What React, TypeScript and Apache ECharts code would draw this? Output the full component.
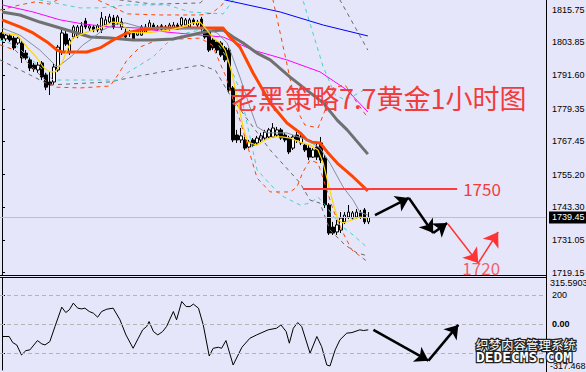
import { useEffect, useRef } from "react";
import * as echarts from "echarts";

// Gold, 1-hour bars: [open, close, low, high]
const bars: number[][] = [
  [1807.2, 1805.3, 1804.6, 1807.5], [1805.0, 1806.4, 1804.2, 1807.2], [1806.1, 1804.6, 1803.9, 1806.8],
  [1805.3, 1801.7, 1800.9, 1806.1], [1803.5, 1805.3, 1802.8, 1805.7], [1803.5, 1798.0, 1796.2, 1804.2],
  [1799.8, 1798.0, 1797.3, 1800.9], [1797.3, 1794.3, 1793.2, 1798.4], [1795.4, 1794.0, 1792.9, 1796.2],
  [1793.6, 1795.4, 1792.5, 1796.5], [1796.2, 1791.0, 1789.9, 1796.9], [1791.8, 1787.3, 1786.2, 1792.5],
  [1789.2, 1788.1, 1784.4, 1792.9], [1789.2, 1794.7, 1788.1, 1795.8], [1793.6, 1802.0, 1792.9, 1802.8],
  [1800.2, 1807.2, 1799.1, 1808.3], [1806.8, 1803.1, 1802.4, 1807.9], [1800.2, 1804.6, 1799.1, 1805.3],
  [1805.7, 1809.4, 1805.0, 1810.1], [1806.1, 1809.4, 1805.3, 1810.1], [1806.4, 1809.8, 1806.1, 1811.2],
  [1811.6, 1809.4, 1808.6, 1812.7], [1809.0, 1809.8, 1807.9, 1810.5], [1809.4, 1808.3, 1807.5, 1810.1],
  [1808.3, 1809.8, 1807.5, 1810.5], [1808.3, 1812.7, 1807.2, 1814.9], [1810.1, 1812.0, 1809.4, 1813.4],
  [1811.2, 1813.1, 1810.5, 1814.2], [1812.7, 1809.4, 1808.6, 1813.8], [1810.9, 1813.1, 1810.1, 1813.8],
  [1809.4, 1811.2, 1808.3, 1812.7], [1807.5, 1805.7, 1805.3, 1809.0], [1807.2, 1806.8, 1805.7, 1808.3],
  [1807.2, 1805.0, 1804.6, 1807.9], [1806.4, 1807.9, 1806.1, 1808.6], [1806.4, 1809.4, 1806.1, 1810.1],
  [1807.5, 1809.4, 1807.2, 1810.5], [1809.0, 1810.9, 1808.3, 1812.0], [1810.1, 1809.0, 1808.6, 1810.9],
  [1808.6, 1809.4, 1807.9, 1810.1], [1809.8, 1808.6, 1807.9, 1810.5], [1808.6, 1809.4, 1808.3, 1810.1],
  [1808.6, 1810.1, 1807.9, 1810.9], [1809.0, 1810.1, 1808.6, 1811.2], [1810.1, 1808.6, 1808.3, 1810.9],
  [1810.1, 1812.7, 1809.4, 1813.1], [1810.1, 1812.0, 1809.8, 1812.7], [1809.4, 1812.0, 1809.0, 1812.7],
  [1812.0, 1810.9, 1810.1, 1812.7], [1810.1, 1811.2, 1809.4, 1812.0], [1812.3, 1809.4, 1807.5, 1813.1],
  [1808.3, 1805.7, 1805.0, 1809.0], [1807.5, 1800.9, 1800.2, 1808.3], [1804.6, 1801.7, 1800.9, 1805.3],
  [1803.9, 1800.9, 1799.8, 1804.6], [1803.5, 1799.1, 1798.4, 1804.2], [1801.7, 1797.3, 1796.5, 1802.4],
  [1800.9, 1786.2, 1785.1, 1801.7], [1787.0, 1767.9, 1767.1, 1787.7], [1769.7, 1767.9, 1766.8, 1771.6],
  [1767.9, 1769.4, 1766.8, 1772.3], [1767.9, 1764.9, 1764.2, 1769.0], [1765.3, 1767.1, 1764.9, 1767.9],
  [1767.9, 1766.0, 1765.3, 1768.6], [1766.8, 1768.6, 1766.0, 1769.4], [1767.9, 1769.4, 1767.1, 1770.5],
  [1768.6, 1770.8, 1767.9, 1771.6], [1769.0, 1771.6, 1768.6, 1772.3], [1769.0, 1772.3, 1768.6, 1774.1],
  [1769.7, 1771.6, 1769.0, 1772.7], [1771.6, 1768.6, 1767.9, 1772.3], [1769.7, 1767.9, 1767.1, 1770.5],
  [1768.6, 1763.5, 1762.7, 1769.4], [1764.9, 1769.0, 1764.2, 1769.7], [1769.7, 1767.9, 1766.8, 1770.8],
  [1766.8, 1769.0, 1766.0, 1769.7], [1766.0, 1764.2, 1763.5, 1766.8], [1764.9, 1761.6, 1760.5, 1766.0],
  [1761.6, 1764.2, 1761.3, 1764.9], [1765.3, 1761.6, 1760.5, 1766.8], [1766.8, 1760.5, 1759.4, 1769.0],
  [1761.3, 1744.0, 1742.9, 1762.4], [1744.0, 1733.7, 1733.0, 1744.7], [1735.9, 1733.7, 1733.0, 1737.8],
  [1734.1, 1736.7, 1733.0, 1738.5], [1734.8, 1739.2, 1733.7, 1741.4], [1737.8, 1740.3, 1737.0, 1741.4],
  [1739.6, 1741.4, 1738.9, 1744.0], [1739.2, 1741.1, 1738.5, 1741.8], [1739.6, 1741.4, 1738.9, 1742.5],
  [1741.1, 1739.6, 1738.9, 1742.2], [1742.2, 1737.8, 1737.0, 1742.9], [1737.8, 1739.45, 1737.0, 1741.4],
];

// bar slots on the time axis (the right part stays empty for the projection)
const slotCount = 137;
const slots = Array.from({ length: slotCount }, (_, i) => String(i));

// moving averages, vertices as [bar position, price]
const maYellow = [
  [0, 1807.2], [3.8, 1806.4], [6.3, 1802.0], [8.8, 1798.0], [10.3, 1794.7], [12.0, 1792.9], [13.3, 1792.9],
  [15.1, 1796.2], [16.3, 1800.9], [17.8, 1805.3], [21.3, 1807.5], [24.6, 1809.0], [27.9, 1811.2], [29.6, 1810.9],
  [32.1, 1807.5], [34.6, 1807.2], [37.9, 1807.5], [42.2, 1808.3], [45.4, 1809.4], [47.7, 1810.9], [49.7, 1811.2],
  [51.4, 1808.3], [53.0, 1805.3], [54.7, 1803.5], [56.0, 1800.9], [57.7, 1792.5], [59.2, 1781.5], [60.5, 1772.7],
  [61.7, 1767.1], [64.0, 1766.0], [66.0, 1767.9], [68.0, 1769.0], [70.3, 1769.0], [72.3, 1768.6], [74.8, 1767.1],
  [77.3, 1766.0], [79.3, 1764.2], [80.6, 1759.4], [81.8, 1752.1], [83.1, 1744.7], [84.3, 1738.5], [85.6, 1737.4],
  [87.8, 1738.5], [89.8, 1739.6], [91.6, 1739.2],
];
const maSlate = [
  [0, 1809.0], [4.5, 1806.4], [9.5, 1800.9], [12.0, 1797.3], [13.8, 1794.7], [15.3, 1796.2], [17.8, 1799.1],
  [20.3, 1802.8], [22.8, 1805.3], [25.3, 1808.3], [27.9, 1810.1], [30.9, 1810.9], [34.6, 1809.4], [42.2, 1808.6],
  [50.4, 1809.0], [54.0, 1807.2], [56.5, 1803.5], [57.2, 1800.9], [59.7, 1791.0], [62.2, 1780.0], [64.0, 1772.7],
  [66.5, 1770.5], [71.5, 1770.5], [76.5, 1767.9], [79.8, 1764.9], [82.3, 1759.4], [85.6, 1750.6], [88.1, 1745.8],
  [89.8, 1741.4], [91.8, 1740.3],
];
const maOrange = [
  [0, 1812.0], [4.5, 1809.4], [7.8, 1807.2], [11.3, 1803.9], [13.8, 1800.9], [15.1, 1800.2], [17.8, 1800.2],
  [21.3, 1800.2], [24.6, 1801.7], [27.9, 1804.6], [31.4, 1807.2], [34.6, 1808.3], [39.7, 1809.0], [49.7, 1809.0],
  [55.5, 1809.0], [57.0, 1806.0], [59.7, 1802.0], [63.0, 1792.5], [67.3, 1781.5], [71.5, 1774.1], [74.8, 1770.5],
  [76.5, 1767.9], [77.8, 1767.1], [79.8, 1766.8], [81.6, 1763.5], [84.1, 1759.4], [88.1, 1754.3], [91.8, 1749.2],
];
const maGray = [
  [0, 1814.9], [4.5, 1813.8], [9.5, 1811.2], [14.6, 1809.0], [18.8, 1807.2], [22.1, 1805.7], [27.1, 1805.3],
  [32.9, 1804.6], [37.9, 1804.6], [42.9, 1805.0], [46.4, 1806.1], [49.7, 1807.2], [52.2, 1807.9], [55.5, 1808.3],
  [58.0, 1805.7], [60.5, 1803.5], [64.0, 1799.8], [67.3, 1797.3], [72.3, 1791.0], [75.5, 1787.3], [80.6, 1781.5],
  [84.1, 1775.2], [86.6, 1771.6], [91.8, 1762.7],
];
const maMagenta = [
  [0, 1817.5], [7.8, 1814.9], [14.6, 1812.0], [20.3, 1810.5], [27.1, 1809.4], [34.6, 1809.0], [41.4, 1807.5],
  [49.7, 1806.4], [55.5, 1805.7], [63.0, 1800.9], [71.5, 1797.3], [79.8, 1792.9], [86.6, 1786.2], [91.8, 1778.2],
];
const maBlue = [[50.0, 1821.8], [56.0, 1819.3], [69.8, 1814.9], [80.6, 1810.1], [91.8, 1806.1]];

// envelope bands (upper / lower), vertices as [bar position, price]
const bandFastUpper = [
  [-0.5, 1815.6], [4.5, 1817.5], [8.3, 1818.6], [12.0, 1817.8], [14.6, 1820.0], [17.1, 1822.2], [20.8, 1821.1],
  [24.6, 1818.9], [28.4, 1816.4], [31.4, 1814.2], [39.7, 1813.8], [49.7, 1813.8], [52.7, 1814.5], [55.2, 1817.5],
  [57.7, 1823.0], [61.0, 1834.0], [66.0, 1834.0], [68.0, 1819.3], [71.0, 1799.1], [74.0, 1778.9], [76.0, 1773.4],
  [79.3, 1772.3], [81.1, 1778.9], [83.1, 1787.0], [86.1, 1788.1], [88.6, 1782.6], [91.8, 1776.0],
];
const bandFastLower = [
  [-0.5, 1802.8], [3.3, 1800.9], [7.0, 1795.4], [10.8, 1789.9], [13.3, 1787.3], [19.6, 1787.0], [27.1, 1787.7],
  [29.1, 1791.8], [31.4, 1797.3], [34.6, 1802.0], [38.9, 1804.6], [49.7, 1805.3], [52.7, 1802.8], [56.0, 1791.8],
  [59.7, 1775.2], [64.0, 1753.9], [67.3, 1748.8], [72.3, 1748.8], [74.0, 1750.6], [75.5, 1756.1], [77.3, 1760.5],
  [79.3, 1759.4], [81.1, 1751.4], [83.1, 1742.2], [85.6, 1733.7], [87.8, 1727.5], [91.8, 1723.1],
];
const bandMidUpper = [
  [-0.5, 1822.2], [9.5, 1819.3], [19.6, 1816.4], [24.6, 1816.4], [31.4, 1817.5], [41.4, 1817.5], [47.2, 1814.9],
  [55.5, 1814.2], [58.0, 1819.3], [61.0, 1834.0], [73.5, 1830.3], [75.5, 1819.3], [80.6, 1794.7], [83.6, 1784.4],
  [86.1, 1782.6], [88.6, 1784.4], [91.8, 1787.0],
];
const bandMidLower = [
  [-0.5, 1804.6], [3.3, 1802.8], [7.0, 1798.0], [10.8, 1792.9], [12.8, 1789.9], [29.6, 1789.9], [31.4, 1792.5],
  [37.9, 1798.4], [41.4, 1803.5], [46.4, 1807.2], [49.7, 1808.3], [52.7, 1806.4], [56.0, 1799.1], [59.7, 1786.2],
  [64.0, 1756.9], [69.8, 1747.7], [74.8, 1744.0], [77.3, 1744.7], [79.3, 1746.9], [81.1, 1744.0], [84.8, 1736.7],
  [88.1, 1733.0], [91.8, 1728.2],
];
const bandSlowUpper = [
  [-0.5, 1823.0], [14.6, 1821.1], [29.6, 1819.3], [37.9, 1817.8], [49.7, 1818.2], [53.5, 1823.0], [57.2, 1841.3],
  [82.3, 1830.3], [84.8, 1819.3], [91.8, 1800.9],
];
const bandSlowLower = [
  [-0.5, 1797.3], [7.0, 1791.8], [12.0, 1788.1], [27.1, 1789.2], [32.9, 1791.0], [49.7, 1795.4], [53.5, 1793.6],
  [57.2, 1784.4], [61.7, 1775.2], [67.3, 1764.2], [74.8, 1752.1], [77.3, 1745.8], [79.8, 1744.7], [82.3, 1734.8],
  [86.1, 1729.3], [89.1, 1726.4], [91.8, 1725.3],
];

// CCI oscillator, vertices as [bar position, value]
const cci = [
  [0, -87], [1.8, -87], [2.7, -129], [3.7, -145], [4.9, -214], [6.0, -184], [7.0, -179], [8.9, -115], [10.0, -138],
  [10.8, -145], [12.0, -122], [13.3, -18], [15.0, 115], [16.0, 78], [16.9, 97], [17.9, 143], [19.0, 108], [20.0, 103],
  [20.8, 108], [21.9, 85], [22.9, 74], [24.0, 46], [25.0, 85], [26.3, 101], [27.9, 108], [29.6, 28], [31.1, -76],
  [32.9, -168], [34.2, -99], [35.3, -41], [36.3, -18], [36.9, 16], [38.0, -53], [39.1, -76], [40.3, -53], [41.3, -18],
  [43.0, 85], [43.8, 28], [45.1, 154], [46.2, 119], [47.2, 119], [48.0, 136], [49.3, 108], [50.5, -7], [52.0, -221],
  [53.0, -168], [54.3, -161], [55.1, -168], [56.2, -115], [58.0, -283], [60.2, -161], [62.2, -99], [63.9, -76],
  [66.8, -41], [68.9, -30], [70.0, -7], [71.3, -53], [72.1, -133], [73.1, -30], [74.2, 9], [75.2, -18], [77.3, -202],
  [79.0, -87], [80.2, -156], [81.5, -283], [82.3, -290], [83.6, -179], [84.8, -110], [86.5, -64], [87.8, -60],
  [89.8, -41], [90.7, -46], [91.9, -41],
];

// right-hand scales
const priceTicks = [1815.75, 1803.85, 1791.6, 1779.35, 1767.45, 1755.2, 1743.3, 1731.05, 1719.15];
const cciMax = 315.5903;
const cciMin = -317.468;
const cciMaxLabel = "315.5903";
const cciMinLabel = "-317.468";
const cciTicks = [200, 0, -200];
const cciTickLabels = ["200", "0.00", "-200"];

// projection
const resistance = 1750;
const support = 1720;
const resistanceSpan = [75.5, 114.2];
const blackPath = [
  [[93.6, 1740.3], [102.1, 1746.6]],
  [[102.1, 1746.6], [108.2, 1733.7]],
  [[108.2, 1733.7], [111.7, 1737.4]],
];
const redPath = [
  [[111.9, 1737.0], [119.5, 1722.7]],
  [[119.5, 1722.7], [124.5, 1734.1]],
];
const cciPath = [
  [[93.2, -41], [107.0, -253]],
  [[107.0, -253], [114.5, -7]],
];

const axisFont = "Liberation Sans";
const red = "#f23c3c";
const labelBase = { margin: 6, color: "#000", fontSize: 9, fontFamily: axisFont };

function band(data: number[][], color: string, width: number, dashed = false, z = 3) {
  return {
    type: "line",
    xAxisIndex: 1,
    yAxisIndex: 0,
    data,
    symbol: "none",
    silent: true,
    z,
    lineStyle: { color, width, type: dashed ? [4, 4] : "solid" },
  };
}

// an extra label-only scale on the oscillator pane, for its high / low readings
function cciEndAxis(value: number, text: string, align: "top" | "bottom") {
  return {
    type: "value",
    gridIndex: 1,
    position: "right",
    min: cciMin,
    max: cciMax,
    axisLine: { show: false },
    axisTick: { show: false },
    splitLine: { show: false },
    axisLabel: {
      ...labelBase,
      margin: 4,
      customValues: [value],
      showMinLabel: true,
      showMaxLabel: true,
      verticalAlign: align,
      formatter: () => text,
    },
  };
}

export default function App() {
  const ref = useRef<HTMLDivElement>(null);

  useEffect(() => {
    document.body.style.margin = "0";
    if (!ref.current) return;
    const chart = echarts.init(ref.current, null, { renderer: "svg" });
    const lastClose = bars[bars.length - 1][1];

    const option = {
      animation: false,
      backgroundColor: "#e6e6fa",
      grid: [
        { left: 0, top: 0, width: 546, height: 275, containLabel: false, outerBoundsMode: "none" },
        { left: 0, top: 278, width: 546, height: 92, containLabel: false, outerBoundsMode: "none" },
      ],
      xAxis: [
        { type: "category", gridIndex: 0, data: slots, show: false, boundaryGap: true },
        { type: "value", gridIndex: 0, min: -0.5, max: slotCount - 0.5, show: false },
        { type: "value", gridIndex: 1, min: -0.5, max: slotCount - 0.5, show: false },
      ],
      yAxis: [
        {
          type: "value",
          gridIndex: 0,
          position: "right",
          min: 1718.3,
          max: 1819.3,
          axisLine: { show: true, lineStyle: { color: "#000", width: 1 } },
          axisTick: { show: true, length: 3, customValues: priceTicks, lineStyle: { color: "#000" } },
          axisLabel: { ...labelBase, customValues: priceTicks, formatter: (v: number) => v.toFixed(2) },
          splitLine: { show: false },
        },
        {
          type: "value",
          gridIndex: 1,
          position: "right",
          min: cciMin,
          max: cciMax,
          axisLine: { show: true, lineStyle: { color: "#000", width: 1 } },
          axisTick: { show: true, length: 3, customValues: cciTicks, lineStyle: { color: "#000" } },
          axisLabel: {
            ...labelBase,
            customValues: cciTicks,
            formatter: (v: number) => {
              const k = cciTicks.findIndex((t) => Math.abs(t - v) < 0.01);
              const s = k >= 0 ? cciTickLabels[k] : String(v);
              return v === 0 ? "{b|" + s + "}" : s;
            },
            rich: { b: { fontWeight: "bold", fontSize: 9, fontFamily: axisFont, color: "#000" } },
          },
          splitLine: { show: false },
        },
        cciEndAxis(cciMax, cciMaxLabel, "top"),
        cciEndAxis(cciMin, cciMinLabel, "bottom"),
      ],
      series: [
        {
          type: "candlestick",
          xAxisIndex: 0,
          yAxisIndex: 0,
          data: bars,
          barWidth: 3,
          silent: true,
          z: 2,
          itemStyle: { color: "#fff", color0: "#000", borderColor: "#000", borderColor0: "#000", borderWidth: 1 },
          markLine: {
            silent: true,
            symbol: ["none", "none"],
            data: [{ yAxis: lastClose }],
            lineStyle: { color: "#c0c0c0", width: 1, type: "solid" },
            label: {
              position: "end",
              distance: 3,
              formatter: lastClose.toFixed(2),
              color: "#fff",
              backgroundColor: "#000",
              padding: [2, 2, 1, 3],
              fontSize: 9,
              fontFamily: axisFont,
            },
          },
        },
        band(bandSlowUpper, "#6a6a6a", 1, true),
        band(bandSlowLower, "#6a6a6a", 1, true),
        band(bandMidUpper, "#48d1cc", 1, true),
        band(bandMidLower, "#48d1cc", 1, true),
        band(bandFastUpper, "#ff4500", 1, true),
        band(bandFastLower, "#ff4500", 1, true),
        band(maBlue, "#0000ff", 1),
        band(maMagenta, "#ff00ff", 1),
        band(maGray, "#707070", 3),
        band(maOrange, "#ff4500", 3),
        band(maSlate, "#8090a0", 1),
        band(maYellow, "#ffd700", 1.2),
        {
          type: "lines",
          coordinateSystem: "cartesian2d",
          xAxisIndex: 1,
          yAxisIndex: 0,
          silent: true,
          z: 6,
          symbol: ["none", "none"],
          lineStyle: { color: "#ff3b3b", width: 2, opacity: 1, curveness: 0 },
          label: {
            show: true,
            position: "end",
            distance: 6,
            formatter: String(resistance),
            color: red,
            fontSize: 17,
            fontFamily: "Noto Sans CJK SC",
          },
          data: [{ coords: [[resistanceSpan[0], resistance], [resistanceSpan[1], resistance]] }],
        },
        {
          type: "lines",
          coordinateSystem: "cartesian2d",
          xAxisIndex: 1,
          yAxisIndex: 0,
          silent: true,
          z: 6,
          symbol: ["none", "arrow"],
          symbolSize: [9, 13],
          lineStyle: { color: "#000", width: 2.5, opacity: 1, curveness: 0 },
          data: blackPath.map((c) => ({ coords: c })),
        },
        {
          type: "lines",
          coordinateSystem: "cartesian2d",
          xAxisIndex: 1,
          yAxisIndex: 0,
          silent: true,
          z: 6,
          symbol: ["none", "arrow"],
          symbolSize: [9, 14],
          lineStyle: { color: "#ff3333", width: 1.5, opacity: 1, curveness: 0 },
          data: redPath.map((c) => ({ coords: c })),
        },
        {
          type: "scatter",
          xAxisIndex: 1,
          yAxisIndex: 0,
          silent: true,
          z: 6,
          symbolSize: 1,
          itemStyle: { color: "rgba(0,0,0,0)" },
          data: [[redPath[0][1][0], support]],
          label: {
            show: true,
            position: "inside",
            offset: [3, -3],
            formatter: (p: any) => String(p.value[1]),
            color: red,
            fontSize: 17,
            fontFamily: "Noto Sans CJK SC",
          },
        },
        {
          type: "line",
          xAxisIndex: 2,
          yAxisIndex: 1,
          data: cci,
          symbol: "none",
          silent: true,
          lineStyle: { color: "#000", width: 1 },
          markLine: {
            silent: true,
            symbol: ["none", "none"],
            label: { show: false },
            lineStyle: { color: "#b4b4b4", width: 1, type: [4, 3] },
            data: cciTicks.map((v) => ({ yAxis: v })),
          },
        },
        {
          type: "lines",
          coordinateSystem: "cartesian2d",
          xAxisIndex: 2,
          yAxisIndex: 1,
          silent: true,
          z: 6,
          symbol: ["none", "arrow"],
          symbolSize: [9, 13],
          lineStyle: { color: "#000", width: 2.5, opacity: 1, curveness: 0 },
          data: cciPath.map((c) => ({ coords: c })),
        },
      ],
      graphic: [
        { type: "line", z: 50, shape: { x1: 0, y1: 275.5, x2: 546, y2: 275.5 }, style: { stroke: "#000", lineWidth: 1 } },
        { type: "line", z: 50, shape: { x1: 0, y1: 277.5, x2: 546, y2: 277.5 }, style: { stroke: "#000", lineWidth: 1 } },
        { type: "line", z: 50, shape: { x1: 546.5, y1: 0, x2: 546.5, y2: 372 }, style: { stroke: "#000", lineWidth: 1 } },
        {
          type: "text",
          z: 100,
          x: 231,
          y: 97,
          style: {
            text: "老黑策略7.7黄金1小时图",
            fill: red,
            font: '27px "Noto Sans CJK SC"',
            verticalAlign: "middle",
            align: "left",
          },
        },
        {
          type: "text",
          z: 100,
          x: 476,
          y: 344,
          style: {
            text: "织梦内容管理系统",
            fill: "#fff",
            stroke: "#222",
            lineWidth: 2.5,
            strokeFirst: true,
            font: '12.5px "Noto Sans CJK SC"',
            verticalAlign: "middle",
            align: "left",
          },
        },
        {
          type: "text",
          z: 100,
          x: 476,
          y: 357,
          style: {
            text: "DEDECMS.COM",
            fill: "#fff",
            stroke: "#222",
            lineWidth: 2.5,
            strokeFirst: true,
            font: 'bold 14.5px "DejaVu Sans Mono"',
            verticalAlign: "middle",
            align: "left",
          },
        },
      ],
    };

    chart.setOption(option as any);
    return () => chart.dispose();
  }, []);

  return <div ref={ref} style={{ width: 586, height: 372 }} />;
}
